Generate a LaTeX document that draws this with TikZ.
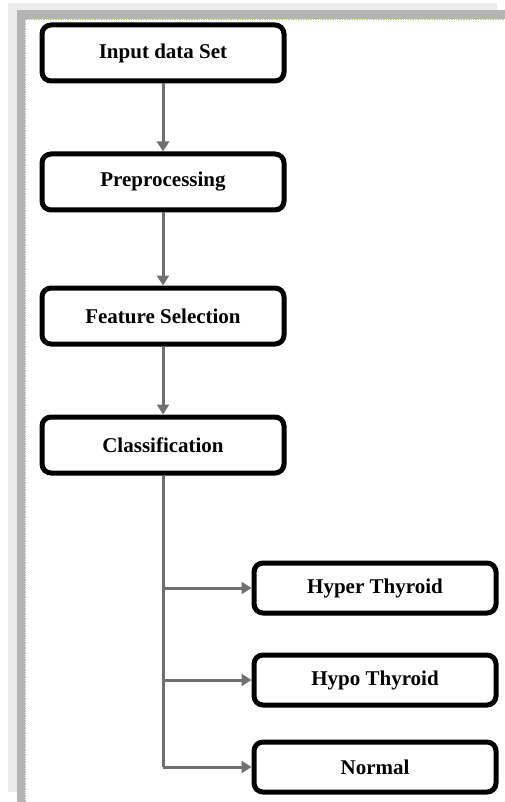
\documentclass[tikz,border=0pt]{standalone}
\usepackage{fontspec}
\setmainfont{Liberation Serif}
\usetikzlibrary{arrows.meta,shadows}
\definecolor{framelight}{HTML}{ECECEC}
\definecolor{framedark}{HTML}{B4B4B4}
\definecolor{framegreen}{HTML}{A6D86A}
\definecolor{linkgray}{HTML}{707070}
\tikzset{
  stage/.style={draw=black, line width=5pt, rounded corners=9pt, fill=white,
    minimum width=242pt, minimum height=56pt, inner sep=0pt,
    font=\fontsize{21}{24}\selectfont\bfseries,
    drop shadow={opacity=0.25, shadow xshift=2pt, shadow yshift=-2pt}},
  result/.style={stage, minimum height=50pt},
  link/.style={draw=linkgray, line width=3pt},
  arr/.style={link, -{Triangle[length=10pt,width=12pt]}}
}
\begin{document}
\begin{tikzpicture}[x=1pt, y=-1pt]
    \useasboundingbox (0,0) rectangle (505,802);
    % page frame
    \path[fill=white] (0,0) rectangle (505,802);
    \path[fill=framelight] (8,3) rectangle (497,792);
    \path[fill=framedark] (17,10) rectangle (505,802);
    \path[fill=white] (25,19) rectangle (505,802);
    \path[draw=framegreen, densely dotted, line width=0.7pt] (25,802) -- (25,19) -- (505,19);

    % main flow
    \node[stage] (input) at (163,53) {Input data Set};
    \node[stage] (prep) at (163,182) {Preprocessing};
    \node[stage] (feat) at (163,316) {Feature Selection};
    \node[stage] (cls) at (163,445) {Classification};

    \draw[arr] (input) -- (prep);
    \draw[arr] (prep) -- (feat);
    \draw[arr] (feat) -- (cls);

    % outputs
    \node[result] (hyper) at (375,588) {Hyper Thyroid};
    \node[result] (hypo) at (375,680) {Hypo Thyroid};
    \node[result] (normal) at (375,767) {Normal};

    \coordinate (j1) at (163,588);
    \coordinate (j2) at (163,680);
    \coordinate (j3) at (163,767);

    \draw[link] (cls.south) -- (j3);
    \draw[arr] (j1) -- (hyper);
    \draw[arr] (j2) -- (hypo);
    \draw[arr] (j3) -- (normal);
\end{tikzpicture}
\end{document}
